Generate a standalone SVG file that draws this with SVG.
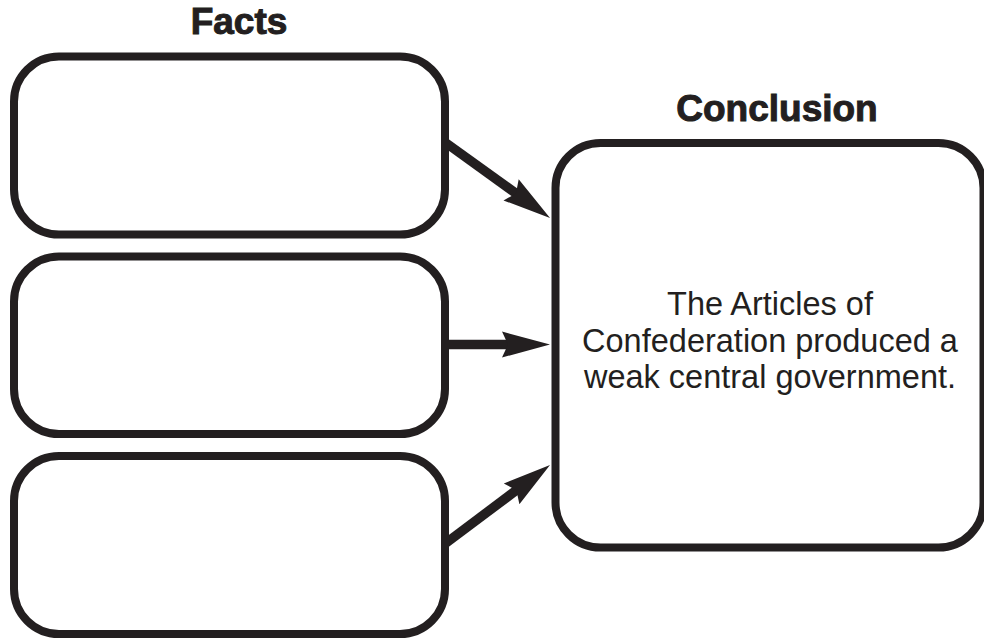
<svg xmlns="http://www.w3.org/2000/svg" width="984" height="639" viewBox="0 0 984 639">
<style>
.box{fill:#fff;stroke:#231f20;stroke-width:8}
.head{font-family:"Liberation Sans",Arial,sans-serif;font-weight:bold;font-size:37px;fill:#231f20;stroke:#231f20;stroke-width:1;text-anchor:middle}
.body{font-family:"Liberation Sans",Arial,sans-serif;font-size:32.5px;fill:#231f20;text-anchor:middle}
.conn{stroke:#231f20;stroke-width:9.5;fill:none}
</style>
<defs>
<marker id="arr" markerUnits="userSpaceOnUse" markerWidth="50" markerHeight="28" refX="18" refY="13" orient="auto" overflow="visible">
<path d="M0,0 L48,13 L0,26 L6,13 Z" fill="#231f20"/>
</marker>
</defs>
<rect width="984" height="639" fill="#fff"/>
<text class="head" x="239" y="34">Facts</text>
<text class="head" x="777" y="121">Conclusion</text>
<g id="connectors">
<line class="conn" x1="446" y1="143" x2="525.7" y2="200.4" marker-end="url(#arr)"/>
<line class="conn" x1="446" y1="344.5" x2="520" y2="344.5" marker-end="url(#arr)"/>
<line class="conn" x1="446" y1="543" x2="526" y2="483" marker-end="url(#arr)"/>
</g>
<g id="fact1"><rect class="box" x="14" y="56.5" width="431" height="178" rx="45"/></g>
<g id="fact2"><rect class="box" x="14" y="256.5" width="431" height="177.5" rx="45"/></g>
<g id="fact3"><rect class="box" x="14" y="456" width="431" height="178" rx="45"/></g>
<g id="conclusion">
<rect class="box" x="555.5" y="143" width="428" height="404.5" rx="45"/>
<text class="body" x="770" y="315">The Articles of</text>
<text class="body" x="770" y="351.5">Confederation produced a</text>
<text class="body" x="770" y="388">weak central government.</text>
</g>
</svg>
